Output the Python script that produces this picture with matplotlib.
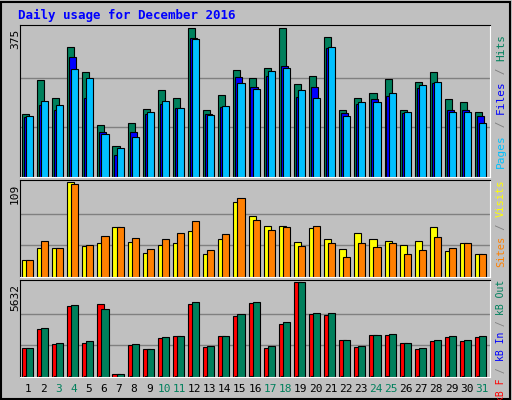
import numpy as np
import matplotlib.pyplot as plt
import matplotlib as mpl
mpl.rc('font', family='DejaVu Sans Mono')

days = np.arange(1, 32)
hits = [158, 245, 199, 326, 265, 130, 78, 135, 170, 219, 199, 375, 168, 206, 270, 250,
        275, 375, 234, 255, 352, 168, 199, 211, 247, 168, 240, 265, 196, 188, 163]
files = [152, 181, 169, 301, 199, 114, 55, 114, 158, 183, 173, 349, 158, 176, 252, 227,
         255, 280, 201, 227, 324, 160, 183, 196, 204, 160, 224, 237, 168, 168, 153]
pages = [153, 191, 181, 273, 250, 109, 73, 101, 163, 191, 173, 347, 155, 178, 237, 222,
         268, 275, 219, 199, 326, 153, 188, 188, 211, 163, 232, 240, 163, 163, 137]
visits = [20, 33, 33, 109, 36, 39, 57, 40, 27, 37, 39, 53, 26, 44, 86, 70,
          58, 58, 40, 56, 43, 32, 50, 44, 41, 37, 41, 57, 30, 39, 26]
sites = [20, 41, 33, 107, 37, 47, 57, 45, 32, 43, 51, 64, 31, 49, 90, 65,
         54, 57, 36, 59, 39, 23, 39, 34, 39, 26, 31, 46, 33, 39, 26]
kb_f = [1733, 2847, 1980, 4208, 2042, 4332, 186, 1919, 1671, 2290, 2414, 4332, 1795, 2414, 3590, 4394,
        1733, 3156, 5632, 3713, 3651, 2166, 1795, 2476, 2476, 2042, 1671, 2104, 2352, 2104, 2352]
kb_in = [40, 60, 30, 70, 60, 40, 20, 30, 30, 30, 30, 60, 30, 40, 60, 40,
         30, 60, 40, 60, 60, 30, 30, 30, 30, 30, 30, 30, 30, 30, 30]
kb_out = [1733, 2909, 2042, 4270, 2104, 4023, 186, 1980, 1671, 2352, 2414, 4456, 1857, 2414, 3713, 4456,
          1857, 3280, 5632, 3775, 3775, 2166, 1857, 2476, 2538, 2042, 1733, 2166, 2414, 2166, 2414]
weekends = [3, 4, 10, 11, 17, 18, 24, 25, 31]

W, H = 512, 400
bg = '#C0C0C0'
fig = plt.figure(figsize=[W/100, H/100], dpi=100, facecolor=bg)

# cadre extérieur
fig.patches.append(plt.Rectangle((1/W, 1/H), 1-3/W, 1-3/H, transform=fig.transFigure,
                                 fill=False, edgecolor='black', lw=1.5))

def panel(top, bottom):
    ax = fig.add_axes([20/W, 1-bottom/H, 470/W, (bottom-top)/H])
    ax.set_facecolor(bg)
    ax.set_xlim(0.45, 31.55)
    ax.set_xticks([]); ax.set_yticks([])
    for s in ax.spines.values():
        s.set_color('white')
    ax.spines['top'].set_color('black'); ax.spines['left'].set_color('black')
    return ax

def bars(ax, vals, off, color, w=0.47):
    ax.bar(days - 0.5 + 0.07 + off, vals, width=w, align='edge', color=color,
           edgecolor='black', linewidth=0.8)

def grid(ax, mx):
    ax.set_ylim(0, mx * 1.02)
    for f in (1/3, 2/3):
        ax.axhline(mx * f, color='#808080', lw=1, zorder=0)

ax1 = panel(25, 177)
grid(ax1, 375)
bars(ax1, hits, 0, '#00805C')
bars(ax1, files, 0.13, '#0000FF')
bars(ax1, pages, 0.27, '#00C0FF')

ax2 = panel(180, 277)
grid(ax2, 109)
bars(ax2, visits, 0, '#FFFF00')
bars(ax2, sites, 0.27, '#FF8000')

ax3 = panel(280, 377)
grid(ax3, 5632)
bars(ax3, kb_f, 0, '#FF0000')
bars(ax3, kb_in, 0.13, '#0000FF', w=0.2)
bars(ax3, kb_out, 0.27, '#00805C')

for d in days:
    fig.text((20 + 470 * (d - 0.45) / 31.1) / W, 1 - 389/H, str(d), ha='center', va='center',
             fontsize=8, color='#00805C' if d in weekends else 'black')

fig.text(18/W, 1-15/H, 'Daily usage for December 2016', color='#0000FF', fontsize=9,
         fontweight='bold', va='center')
for y, lab in [(29, '375'), (184, '109'), (284, '5632')]:
    fig.text(15/W, 1-y/H, lab, rotation=90, ha='center', va='top', fontsize=8)

def rlabel(yc, parts, fs):
    step = fs * 0.602 * 100 / 72
    n = sum(len(t) for t, c in parts)
    y = yc + n * step / 2
    for t, c in parts:
        fig.text(501/W, 1-y/H, t, rotation=90, color=c, fontsize=fs, ha='center', va='bottom')
        y -= len(t) * step

rlabel(101, [('Pages', '#00C0FF'), (' / ', '#808080'), ('Files', '#0000FF'),
             (' / ', '#808080'), ('Hits', '#00805C')], 8)
rlabel(223, [('Sites', '#FF8000'), (' / ', '#808080'), ('Visits', '#FFFF00')], 7.5)
rlabel(341, [('kB F', '#FF0000'), (' / ', '#808080'), ('kB In', '#0000FF'),
             (' / ', '#808080'), ('kB Out', '#00805C')], 7)

fig.savefig('out.png', facecolor=bg)
